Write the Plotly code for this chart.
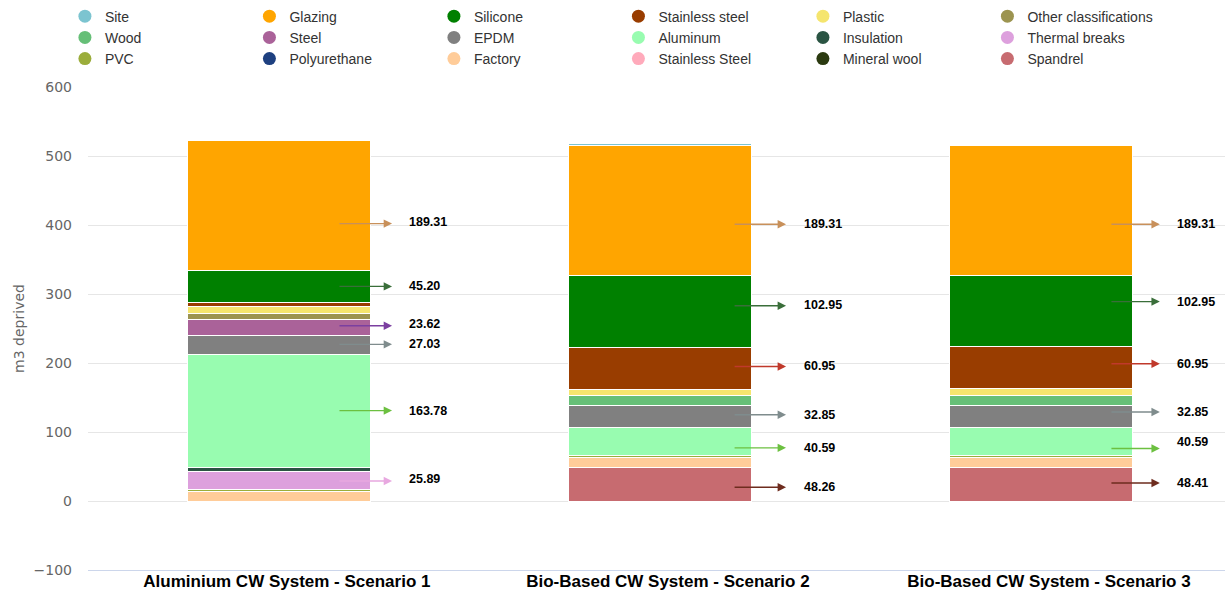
import plotly.graph_objects as go

categories = ["Aluminium CW System - Scenario 1",
              "Bio-Based CW System - Scenario 2",
              "Bio-Based CW System - Scenario 3"]

# legend order (row-wise), first = top of stack
series_names = ["Site", "Glazing", "Silicone", "Stainless steel", "Plastic", "Other classifications",
                "Wood", "Steel", "EPDM", "Aluminum", "Insulation", "Thermal breaks",
                "PVC", "Polyurethane", "Factory", "Stainless Steel", "Mineral wool", "Spandrel"]

site = [None, 3.0, None]
glazing = [189.31, 189.31, 189.31]
silicone = [45.20, 102.95, 102.95]
stainless_steel = [7.0, 60.95, 60.95]
plastic = [10.0, 9.0, 9.0]
other_classifications = [8.0, None, None]
wood = [None, 14.5, 14.5]
steel = [23.62, None, None]
epdm = [27.03, 32.85, 32.85]
aluminum = [163.78, 40.59, 40.59]
insulation = [6.0, None, None]
thermal_breaks = [25.89, None, None]
pvc = [3.0, 2.5, 2.5]
polyurethane = [None, None, None]
factory = [14.0, 14.5, 14.5]
stainless_steel_2 = [None, None, None]
mineral_wool = [None, None, None]
spandrel = [None, 48.26, 48.41]

series_values = [site, glazing, silicone, stainless_steel, plastic, other_classifications,
                 wood, steel, epdm, aluminum, insulation, thermal_breaks,
                 pvc, polyurethane, factory, stainless_steel_2, mineral_wool, spandrel]

colors = ["#7cc4d0", "#ffa500", "#008000", "#993d00", "#f5e56e", "#9c9450",
          "#66bf77", "#aa6299", "#808080", "#98fcb0", "#2a5443", "#dda0dd",
          "#9bad3b", "#1e4080", "#ffcc99", "#ffaabb", "#2b3a10", "#c76b70"]

# labelled values: (series, label text) per category
label_series = [
    [("Glazing", "189.31"), ("Silicone", "45.20"), ("Steel", "23.62"), ("EPDM", "27.03"),
     ("Aluminum", "163.78"), ("Thermal breaks", "25.89")],
    [("Glazing", "189.31"), ("Silicone", "102.95"), ("Stainless steel", "60.95"), ("EPDM", "32.85"),
     ("Aluminum", "40.59"), ("Spandrel", "48.26")],
    [("Glazing", "189.31"), ("Silicone", "102.95"), ("Stainless steel", "60.95"), ("EPDM", "32.85"),
     ("Aluminum", "40.59"), ("Spandrel", "48.41")],
]
# annotation placement (layout, not data)
label_y = [
    [402, 311, 254, 227, 131, 29],
    [401, 283, 195, 125, 77, 20],
    [401, 289, 199, 129, 76, 26],
]
text_y = [
    [404, 312, 257, 227, 130, 32],
    [402, 284, 195, 125, 77, 20],
    [402, 289, 199, 129, 86, 26],
]
arrow_offsets = [(0.155, 0.297, 0.336), (0.192, 0.331, 0.373), (0.181, 0.312, 0.352)]
arrow_colors = {"Glazing": "#c8905a", "Silicone": "#3a6e3a", "Steel": "#7b3fa0",
                "EPDM": "#7f8c8d", "Aluminum": "#6cc040", "Thermal breaks": "#e8a8e0",
                "Stainless steel": "#c0392b", "Spandrel": "#6e2c1e"}

fig = go.Figure()

# stack bottom-up: reverse legend order
for name, vals, col in reversed(list(zip(series_names, series_values, colors))):
    fig.add_trace(go.Bar(x=list(range(3)), y=vals, name=name, marker_color=col,
                         marker_line_color="white", marker_line_width=1,
                         width=0.48, showlegend=False))

for name, col in zip(series_names, colors):
    fig.add_trace(go.Scatter(x=[None], y=[None], mode="markers", name=name,
                             marker=dict(symbol="circle", size=13, color=col)))

annotations = []
for ci in range(3):
    t, h, tx = arrow_offsets[ci]
    for (sname, txt), ay, ty in zip(label_series[ci], label_y[ci], text_y[ci]):
        annotations.append(dict(x=ci + h, y=ay, ax=ci + t, ay=ay, xref="x", yref="y",
                                axref="x", ayref="y", text="", showarrow=True,
                                arrowhead=2, arrowsize=1.2, arrowwidth=1.4,
                                arrowcolor=arrow_colors[sname], standoff=0, startstandoff=0))
        annotations.append(dict(x=ci + tx, y=ty, xref="x", yref="y", text="<b>" + txt + "</b>",
                                showarrow=False, xanchor="left", yanchor="middle",
                                font=dict(family="Liberation Sans, Arial", size=12.5, color="#000000")))

fig.update_layout(
    width=1225, height=593,
    margin=dict(l=88, r=0, t=87, b=23, autoexpand=False),
    barmode="stack",
    plot_bgcolor="white", paper_bgcolor="white",
    annotations=annotations,
    legend=dict(orientation="h", xref="container", yref="container", traceorder="normal",
                x=0.053, y=0.999, xanchor="left", yanchor="top",
                entrywidth=139.5, entrywidthmode="pixels",
                font=dict(family="Liberation Sans, Arial", size=14, color="#333333")),
    xaxis=dict(range=[-0.501, 2.483], tickmode="array", tickvals=[0, 1, 2],
               ticktext=["<b>" + c + "</b>" for c in categories],
               showgrid=False, showline=True, linecolor="#ccd6eb", linewidth=1,
               tickfont=dict(family="Liberation Sans, Arial", size=17, color="#000000"),
               ticks="", zeroline=False, automargin=False, ticklabelstandoff=-4,
               ticklabelshift=8),
    yaxis=dict(range=[-100, 600], dtick=100, showgrid=True, gridcolor="#e6e6e6", gridwidth=1,
               zeroline=False, showline=False, automargin=False,
               tickfont=dict(family="DejaVu Sans", size=14, color="#666666"),
               ticklabelstandoff=15,
               title=dict(text="m3 deprived", standoff=5,
                          font=dict(family="DejaVu Sans", size=14, color="#666666"))),
)

fig.write_html("out.html", post_script="document.body.style.margin='0px';",
               config={"displayModeBar": False})
